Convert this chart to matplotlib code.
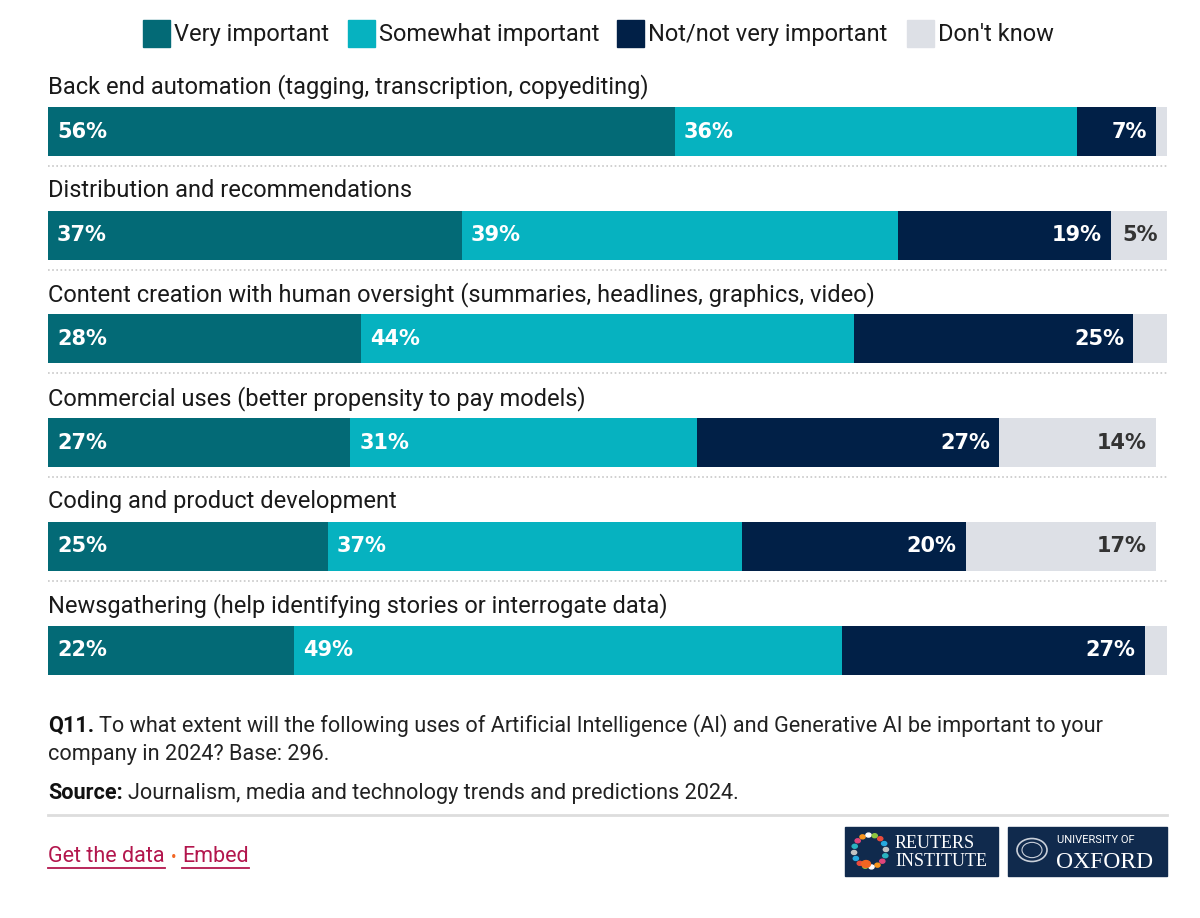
import matplotlib
matplotlib.use("Agg")
import matplotlib.pyplot as plt
from matplotlib.patches import Rectangle, Circle
from matplotlib.lines import Line2D
import numpy as np

# ---- data ----
categories = [
    "Back end automation (tagging, transcription, copyediting)",
    "Distribution and recommendations",
    "Content creation with human oversight (summaries, headlines, graphics, video)",
    "Commercial uses (better propensity to pay models)",
    "Coding and product development",
    "Newsgathering (help identifying stories or interrogate data)",
]
series_names = ["Very important", "Somewhat important", "Not/not very important", "Don't know"]
very_important = [56, 37, 28, 27, 25, 22]
somewhat_important = [36, 39, 44, 31, 37, 49]
not_important = [7, 19, 25, 27, 20, 27]
dont_know = [1, 5, 3, 14, 17, 2]

colors = ["#036a76", "#06b2c0", "#012047", "#dde0e6"]
label_colors = ["white", "white", "white", "#333333"]

W, H = 1200, 918
fig = plt.figure(figsize=(W / 100, H / 100), dpi=100)
fig.patch.set_facecolor("white")

FONT = "Roboto"
BOLD_FONT = "DejaVu Sans"

def fx(px):
    return px / W

def fy(py):
    return 1 - py / H

# axes in pixel-like vertical coordinates
x0, x1 = 48, 1167
ax = fig.add_axes([fx(x0), 0, fx(x1) - fx(x0), 1])
ax.set_xlim(0, 100)
ax.set_ylim(H, 0)
ax.axis("off")

row_top = 131.5
row_step = 103.7
bar_h = 49
centers = [row_top + i * row_step for i in range(len(categories))]

series = [very_important, somewhat_important, not_important, dont_know]
left = np.zeros(len(categories))
for si, vals in enumerate(series):
    vals = np.array(vals, dtype=float)
    ax.barh(centers, vals, left=left, height=bar_h, color=colors[si], linewidth=0)
    for i, v in enumerate(vals):
        if v >= 5:
            if si < 2:
                xy = (left[i], centers[i]); off = (6.5, 0); ha = "left"
            else:
                xy = (left[i] + v, centers[i]); off = (-6.5, 0); ha = "right"
            ax.annotate(f"{int(v)}%", xy=xy, xytext=off, textcoords="offset points",
                        ha=ha, va="center", color=label_colors[si],
                        fontsize=15, fontweight="bold", family=BOLD_FONT)
    left += vals

# row labels
for i, c in enumerate(categories):
    ax.text(0, centers[i] - 44.5, c, ha="left", va="center", fontsize=17,
            family=FONT, color="#1a1a1a")

# dotted separators
for i in range(len(categories) - 1):
    ax.plot([0, 100], [centers[i] + 34.5] * 2, color="#c8c8c8", lw=1.2,
            linestyle=(0, (1, 1.5)))

# legend (manual)
leg_sq = [143, 348, 617, 907]
for i, name in enumerate(series_names):
    fig.patches.append(Rectangle((fx(leg_sq[i]), fy(47)), fx(27), 27 / H,
                                 transform=fig.transFigure, color=colors[i]))
    fig.text(fx(leg_sq[i] + 31), fy(34.5), name, ha="left", va="center",
             fontsize=17, family=FONT, color="#1a1a1a")

# footer notes
FS = 15.6
t = fig.text(fx(48), fy(725.5), "Q11.", ha="left", va="center", fontsize=FS,
             family=FONT, fontweight="bold", color="#111111")
fig.canvas.draw()
r = fig.canvas.get_renderer()
bb = t.get_window_extent(r)
fig.text(bb.x1 / W + fx(5), fy(725.5),
         "To what extent will the following uses of Artificial Intelligence (AI) and Generative AI be important to your",
         ha="left", va="center", fontsize=FS, family=FONT, color="#222222")
fig.text(fx(48), fy(754.5), "company in 2024? Base: 296.", ha="left", va="center",
         fontsize=FS, family=FONT, color="#222222")
t2 = fig.text(fx(48), fy(793), "Source:", ha="left", va="center", fontsize=FS,
              family=FONT, fontweight="bold", color="#111111")
bb2 = t2.get_window_extent(r)
fig.text(bb2.x1 / W + fx(5), fy(793),
         "Journalism, media and technology trends and predictions 2024.",
         ha="left", va="center", fontsize=FS, family=FONT, color="#222222")

fig.lines.append(Line2D([fx(48), fx(1167)], [fy(815), fy(815)], transform=fig.transFigure,
                        color="#dddddd", lw=2))

# links
link_col = "#b3164d"
g = fig.text(fx(48), fy(857), "Get the data", ha="left", va="center", fontsize=15.5,
             family=FONT, color=link_col)
bbg = g.get_window_extent(r)
fig.lines.append(Line2D([bbg.x0 / W, bbg.x1 / W], [fy(868), fy(868)],
                        transform=fig.transFigure, color=link_col, lw=1.3))
d = fig.text(bbg.x1 / W + fx(6), fy(857), "•", ha="left", va="center", fontsize=12,
             family=FONT, color="#f26522")
bbd = d.get_window_extent(r)
e = fig.text(bbd.x1 / W + fx(6), fy(857), "Embed", ha="left", va="center", fontsize=15.5,
             family=FONT, color=link_col)
bbe = e.get_window_extent(r)
fig.lines.append(Line2D([bbe.x0 / W, bbe.x1 / W], [fy(868), fy(868)],
                        transform=fig.transFigure, color=link_col, lw=1.3))

# logos
navy = "#102a4d"
fig.patches.append(Rectangle((fx(845), fy(876)), fx(153), 49 / H,
                             transform=fig.transFigure, color=navy))
fig.patches.append(Rectangle((fx(1008), fy(876)), fx(159), 49 / H,
                             transform=fig.transFigure, color=navy))
fig.text(fx(895), fy(843), "REUTERS", ha="left", va="center", fontsize=13,
         family="Liberation Serif", color="white")
fig.text(fx(895), fy(861), "INSTITUTE", ha="left", va="center", fontsize=13,
         family="Liberation Serif", color="white")
dot_cols = ["#2bb3c0", "#e0457b", "#f7941d", "#ffffff", "#8dc63f", "#e94b3c", "#26a9e0", "#c2c2c2"]
cx, cy, rr = 870, 851, 16
for k in range(16):
    a = 2 * np.pi * k / 16 + 0.3
    px_, py_ = cx + rr * np.cos(a), cy + rr * np.sin(a)
    fig.patches.append(Circle((fx(px_), fy(py_)), 2.6 / W, transform=fig.transFigure,
                              color=dot_cols[k % len(dot_cols)]))
fig.patches.append(Circle((fx(866), fy(864)), 4.5 / W, transform=fig.transFigure,
                          color="#f26522"))
fig.patches.append(Circle((fx(1032), fy(850)), 15 / W, transform=fig.transFigure,
                          fill=False, edgecolor="#c9cfd9", lw=1.2))
fig.patches.append(Circle((fx(1032), fy(850)), 10 / W, transform=fig.transFigure,
                          fill=False, edgecolor="#c9cfd9", lw=0.8))
fig.text(fx(1057), fy(840), "UNIVERSITY OF", ha="left", va="center", fontsize=8,
         family=FONT, color="white")
fig.text(fx(1056), fy(862), "OXFORD", ha="left", va="center", fontsize=17,
         family="Liberation Serif", color="white")

fig.savefig("out.png", dpi=100, facecolor="white")
